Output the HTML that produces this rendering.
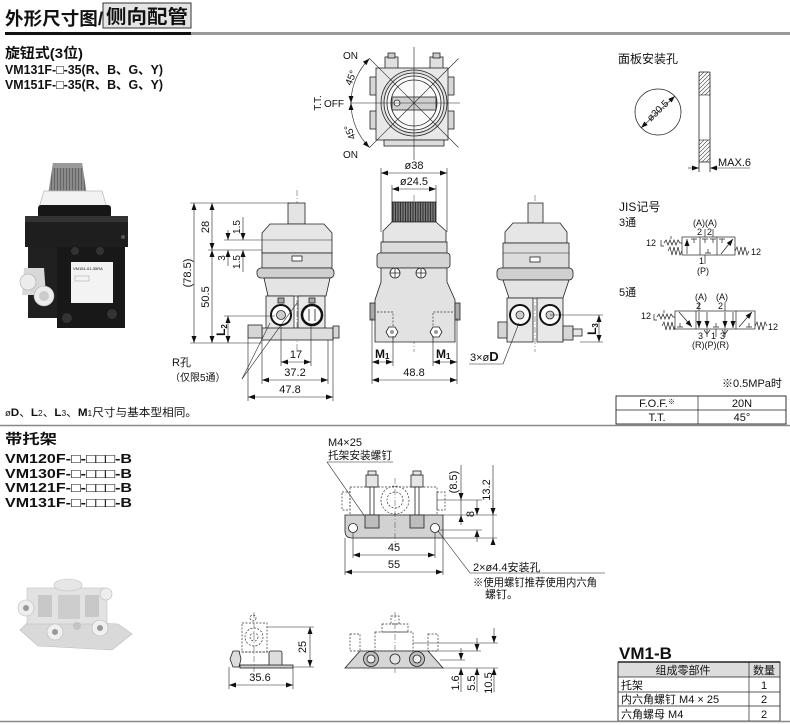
<!DOCTYPE html>
<html><head><meta charset="utf-8"><style>
html,body{margin:0;padding:0;background:#fff;}
svg{display:block;}
text{font-family:"Liberation Sans","Noto Sans CJK SC",sans-serif;fill:#111;}
.b{font-weight:bold;}
.ln{stroke:#222;stroke-width:0.8;fill:none;}
.th{stroke:#222;stroke-width:0.6;fill:none;}
.ds{stroke:#333;stroke-width:0.7;fill:none;stroke-dasharray:2 1.5;}
.cl{stroke:#444;stroke-width:0.5;fill:none;stroke-dasharray:6 2 1 2;}
.dim{stroke:#222;stroke-width:0.6;fill:none;marker-start:url(#ar);marker-end:url(#ar);}
.s{stroke:#222;stroke-width:0.8;}
</style></head><body>
<svg width="790" height="725" viewBox="0 0 790 725" xmlns="http://www.w3.org/2000/svg">
<defs>
<marker id="ar" markerUnits="userSpaceOnUse" markerWidth="7" markerHeight="5" refX="7" refY="2.5" orient="auto-start-reverse" viewBox="0 0 7 5"><path d="M0,0 L7,2.5 L0,5 z" fill="#111"/></marker>
<pattern id="hatch" patternUnits="userSpaceOnUse" width="4" height="4"><path d="M-1,1 L1,-1 M0,4 L4,0 M3,5 L5,3" stroke="#333" stroke-width="0.6"/></pattern>
<pattern id="knurl" patternUnits="userSpaceOnUse" width="2.5" height="4"><rect width="2.5" height="4" fill="#777"/><rect width="1" height="4" fill="#333"/></pattern>
<pattern id="knurl2" patternUnits="userSpaceOnUse" width="3" height="4"><rect width="3" height="4" fill="#8a8a8a"/><rect width="1" height="4" fill="#666"/></pattern>
</defs>

<!-- HEADER -->
<text x="5" y="25" font-size="18" class="b" textLength="98" lengthAdjust="spacingAndGlyphs">外形尺寸图/</text>
<rect x="103" y="3" width="88" height="25" fill="#e4e4e4" stroke="#333" stroke-width="1"/>
<text x="106" y="23" font-size="19" class="b" textLength="82" lengthAdjust="spacingAndGlyphs">侧向配管</text>
<rect x="5" y="32" width="186" height="3" fill="#111"/>
<rect x="191" y="32" width="599" height="3" fill="#999"/>

<text x="5" y="58" font-size="14" class="b" textLength="78" lengthAdjust="spacingAndGlyphs">旋钮式(3位)</text>
<text x="5" y="74" font-size="13" class="b" textLength="158" lengthAdjust="spacingAndGlyphs">VM131F-□-35(R、B、G、Y)</text>
<text x="5" y="89" font-size="13" class="b" textLength="158" lengthAdjust="spacingAndGlyphs">VM151F-□-35(R、B、G、Y)</text>

<!-- TOP PHOTO (dark valve) -->
<g>
<path d="M53,163 L82,163 L87,195 L48,195 Z" fill="url(#knurl2)"/>
<path d="M53,163 L82,163 L83,168 L52,168 Z" fill="#9a9a9a"/>
<path d="M44,191 L102,191 L108,211 L38,211 Z" fill="#f2f2f2" stroke="#bbb" stroke-width="0.8"/>
<rect x="38" y="205" width="73" height="13" rx="3" fill="#161616"/>
<path d="M25,216 L128,216 L128,247 L25,247 Z" fill="#1e1e1e"/>
<path d="M25,216 L128,216 L128,222 L25,222 Z" fill="#333"/>
<path d="M28,247 L125,247 L125,328 L57,328 L57,318 L28,318 Z" fill="#202020"/>
<rect x="57" y="247" width="68" height="81" fill="#181818"/>
<rect x="71" y="262" width="42" height="41" fill="#f3f3f3"/>
<text x="73" y="270" font-size="4" fill="#555">VM151-01-35RA</text>
<rect x="75" y="276" width="14" height="5" fill="none" stroke="#888" stroke-width="0.4"/>
<path d="M24,268 L44,268 L46,295 L22,295 Z" fill="#d8d8d8"/>
<circle cx="28" cy="282" r="8" fill="#ececec" stroke="#aaa" stroke-width="0.6"/>
<circle cx="44" cy="296" r="10" fill="#ececec" stroke="#aaa" stroke-width="0.6"/>
<circle cx="44" cy="296" r="5" fill="#ccc"/>
<circle cx="75" cy="251" r="4" fill="#333"/>
<circle cx="100" cy="251" r="4" fill="#333"/>
<circle cx="67" cy="318" r="5" fill="#333"/>
<circle cx="112" cy="314" r="5" fill="#333"/>
<circle cx="123" cy="237" r="2" fill="#555"/>
</g>

<!-- TOP VIEW WITH ANGLES -->
<g>
<rect x="385" y="57" width="13" height="12" fill="#e0e0e0" class="s" stroke-width="0.7"/>
<rect x="430" y="57" width="13" height="12" fill="#e0e0e0" class="s" stroke-width="0.7"/>
<rect x="388" y="53" width="7" height="5" fill="#ccc" class="s" stroke-width="0.6"/>
<rect x="433" y="53" width="7" height="5" fill="#ccc" class="s" stroke-width="0.6"/>
<rect x="370" y="77" width="7" height="18" fill="#d8d8d8" class="s" stroke-width="0.7"/>
<rect x="370" y="111" width="7" height="18" fill="#d8d8d8" class="s" stroke-width="0.7"/>
<rect x="447" y="77" width="7" height="18" fill="#d8d8d8" class="s" stroke-width="0.7"/>
<rect x="447" y="111" width="7" height="18" fill="#d8d8d8" class="s" stroke-width="0.7"/>
<rect x="376" y="68" width="72" height="72" fill="#e8e8e8" class="s"/>
<rect x="384" y="140" width="60" height="6" fill="#ddd" class="s" stroke-width="0.6"/>
<circle cx="414" cy="103" r="33" fill="#dedede" class="s"/>
<circle cx="414" cy="103" r="30" fill="#eee" class="s" stroke-width="0.6"/>
<circle cx="414" cy="103" r="27" fill="#fafafa" class="s" stroke-width="1.3"/>
<circle cx="414" cy="103" r="23" fill="none" class="s" stroke-width="0.6"/>
<rect x="392" y="97" width="44" height="13" fill="#cfcfcf" class="s"/>
<circle cx="397" cy="103" r="3" fill="#fff" class="s" stroke-width="0.8"/>
<line x1="369.5" y1="58.5" x2="458.5" y2="147.5" class="th"/>
<line x1="369.5" y1="147.5" x2="458.5" y2="58.5" class="th"/>
<line x1="414" y1="47" x2="414" y2="160" class="th"/>
<line x1="350" y1="103" x2="460" y2="103" class="th"/>
<path d="M369.5,58.5 A63,63 0 0,0 351,103" class="dim"/>
<path d="M351,103 A63,63 0 0,0 369.5,147.5" class="dim"/>
<text x="343" y="59" font-size="10">ON</text>
<text x="343" y="158" font-size="10">ON</text>
<text x="324" y="107" font-size="10">OFF</text>
<text transform="translate(321,103) rotate(-90)" font-size="10" text-anchor="middle">T.T.</text>
<text transform="translate(354,79) rotate(-68)" font-size="10" text-anchor="middle">45°</text>
<text transform="translate(353,131) rotate(-112)" font-size="10" text-anchor="middle">45°</text>
</g>

<!-- PANEL HOLE -->
<text x="618" y="63" font-size="12" textLength="60" lengthAdjust="spacingAndGlyphs">面板安装孔</text>
<circle cx="658" cy="112" r="23" class="ln"/>
<line x1="641" y1="128" x2="675" y2="96" class="dim"/>
<text transform="translate(660,113) rotate(-44)" font-size="10" text-anchor="middle">ø30.5</text>
<rect x="699" y="72" width="11" height="23" fill="url(#hatch)"/>
<rect x="699" y="140" width="11" height="22" fill="url(#hatch)"/>
<line x1="699" y1="72" x2="699" y2="172" class="ln"/>
<line x1="710" y1="72" x2="710" y2="172" class="ln"/>
<line x1="699" y1="72" x2="710" y2="72" class="ln"/>
<line x1="699" y1="162" x2="710" y2="162" class="ln"/>
<line x1="699" y1="95" x2="710" y2="95" class="th"/>
<line x1="699" y1="140" x2="710" y2="140" class="th"/>
<line x1="688" y1="168" x2="699" y2="168" class="th" marker-end="url(#ar)"/>
<line x1="750" y1="168" x2="710" y2="168" class="th" marker-end="url(#ar)"/>
<text x="718" y="166" font-size="11">MAX.6</text>

<!-- LEFT SIDE VIEW -->
<g>
<line x1="297" y1="190" x2="297" y2="352" class="cl"/>
<rect x="288" y="203" width="17" height="21" fill="#e4e4e4" class="s"/>
<path d="M262,253 L262,233 L270,224 L324,224 L332,233 L332,253 Z" fill="#e6e6e6" class="s"/>
<line x1="262" y1="240" x2="332" y2="240" class="th"/>
<rect x="262" y="253" width="70" height="15" fill="#dcdcdc" class="s"/>
<rect x="292" y="256" width="10" height="5" fill="#fff" class="s" stroke-width="0.6"/>
<rect x="257" y="268" width="77" height="10" rx="4" fill="#cfcfcf" class="s"/>
<path d="M264,278 L330,278 L326,296 L268,296 Z" fill="#e4e4e4" class="s"/>
<rect x="266" y="296" width="28" height="42" fill="#e8e8e8" class="s"/>
<rect x="298" y="296" width="27" height="42" fill="#e8e8e8" class="s"/>
<rect x="262" y="328" width="71" height="12" fill="#dedede" class="s"/>
<circle cx="281" cy="315" r="10" fill="#fff" stroke="#111" stroke-width="2"/>
<circle cx="281" cy="315" r="4.5" fill="#ccc" class="s"/>
<circle cx="312" cy="315" r="10" fill="#fff" stroke="#111" stroke-width="2.5"/>
<line x1="309" y1="309" x2="309" y2="321" class="s"/>
<line x1="315" y1="309" x2="315" y2="321" class="s"/>
<rect x="248" y="325" width="14" height="13" fill="#d6d6d6" class="s"/>
<rect x="333" y="326" width="6" height="12" fill="#d6d6d6" class="s"/>
<rect x="278" y="298" width="6" height="5" fill="#aaa" class="s" stroke-width="0.5"/>
<rect x="309" y="298" width="6" height="5" fill="#aaa" class="s" stroke-width="0.5"/>
<!-- dims -->
<line x1="190" y1="203" x2="290" y2="203" class="th"/>
<line x1="190" y1="343" x2="262" y2="343" class="th"/>
<line x1="194" y1="203" x2="194" y2="343" class="dim"/>
<text transform="translate(191,273) rotate(-90)" font-size="11" text-anchor="middle">(78.5)</text>
<line x1="212" y1="203" x2="212" y2="250" class="dim"/>
<line x1="212" y1="250" x2="212" y2="343" class="dim"/>
<text transform="translate(209,227) rotate(-90)" font-size="11" text-anchor="middle">28</text>
<text transform="translate(209,297) rotate(-90)" font-size="11" text-anchor="middle">50.5</text>
<line x1="208" y1="250" x2="262" y2="250" class="th"/>
<line x1="224" y1="240" x2="262" y2="240" class="th"/>
<line x1="243" y1="217" x2="243" y2="240" class="th" marker-end="url(#ar)"/>
<line x1="243" y1="272" x2="243" y2="250" class="th" marker-end="url(#ar)"/>
<line x1="228" y1="230" x2="228" y2="240" class="th" marker-end="url(#ar)"/>
<line x1="228" y1="266" x2="228" y2="250" class="th" marker-end="url(#ar)"/>
<text transform="translate(240,227) rotate(-90)" font-size="10" text-anchor="middle">1.5</text>
<text transform="translate(240,262) rotate(-90)" font-size="10" text-anchor="middle">1.5</text>
<text transform="translate(225,258) rotate(-90)" font-size="10" text-anchor="middle">3</text>
<line x1="224" y1="316" x2="275" y2="316" class="th"/>
<line x1="228" y1="316" x2="228" y2="343" class="dim"/>
<text transform="translate(225,330) rotate(-90)" font-size="12" text-anchor="middle" class="b">L<tspan font-size="8" dy="2">2</tspan></text>
<line x1="281" y1="326" x2="281" y2="366" class="th"/>
<line x1="311" y1="326" x2="311" y2="366" class="th"/>
<line x1="262" y1="340" x2="262" y2="384" class="th"/>
<line x1="328" y1="340" x2="328" y2="384" class="th"/>
<line x1="248" y1="338" x2="248" y2="401" class="th"/>
<line x1="333" y1="338" x2="333" y2="401" class="th"/>
<line x1="281" y1="362" x2="311" y2="362" class="dim"/>
<text x="296" y="358" font-size="11" text-anchor="middle">17</text>
<line x1="262" y1="380" x2="328" y2="380" class="dim"/>
<text x="295" y="376" font-size="11" text-anchor="middle">37.2</text>
<line x1="248" y1="397" x2="333" y2="397" class="dim"/>
<text x="290" y="393" font-size="11" text-anchor="middle">47.8</text>
<text x="172" y="366" font-size="11">R孔</text>
<text x="170" y="381" font-size="10">（仅限5通）</text>
<line x1="242" y1="379" x2="270" y2="323" class="th"/>
<line x1="242" y1="379" x2="297" y2="303" class="th"/>
</g>

<!-- FRONT VIEW -->
<g>
<line x1="414" y1="195" x2="414" y2="352" class="cl"/>
<rect x="392" y="202" width="44" height="20" fill="url(#knurl)" class="s"/>
<path d="M383,242 L383,231 L392,222 L436,222 L446,231 L446,242 Z" fill="#e6e6e6" class="s"/>
<rect x="381" y="242" width="66" height="11" fill="#dcdcdc" class="s"/>
<rect x="377" y="253" width="73" height="15" rx="3" fill="#d4d4d4" class="s"/>
<path d="M381,268 L447,268 L447,282 L455,300 L455,342 L375,342 L375,300 L381,282 Z" fill="#e2e2e2" class="s"/>
<circle cx="395" cy="273" r="5" fill="#fff" class="s"/>
<path d="M390,273 H400 M395,268 V278" class="s"/>
<circle cx="421" cy="273" r="5" fill="#fff" class="s"/>
<path d="M416,273 H426 M421,268 V278" class="s"/>
<rect x="370" y="303" width="5" height="17" fill="#aaa" class="s" stroke-width="0.6"/>
<rect x="455" y="303" width="5" height="17" fill="#aaa" class="s" stroke-width="0.6"/>
<path d="M377,312 H393 V342 M453,312 H433 V342" class="ds"/>
<polygon points="386,332 389,327 395,327 398,332 395,337 389,337" fill="#fff" class="s"/>
<circle cx="392" cy="332" r="2" fill="#999"/>
<polygon points="430,332 433,327 439,327 442,332 439,337 433,337" fill="#fff" class="s"/>
<circle cx="436" cy="332" r="2" fill="#999"/>
<line x1="381" y1="168" x2="381" y2="232" class="th"/>
<line x1="447" y1="168" x2="447" y2="232" class="th"/>
<line x1="392" y1="185" x2="392" y2="203" class="th"/>
<line x1="436" y1="185" x2="436" y2="203" class="th"/>
<line x1="381" y1="173" x2="447" y2="173" class="dim"/>
<text x="414" y="169" font-size="11" text-anchor="middle">ø38</text>
<line x1="392" y1="189" x2="436" y2="189" class="dim"/>
<text x="414" y="185" font-size="11" text-anchor="middle">ø24.5</text>
<line x1="372" y1="318" x2="372" y2="384" class="th"/>
<line x1="457" y1="318" x2="457" y2="384" class="th"/>
<line x1="393" y1="336" x2="393" y2="366" class="th"/>
<line x1="433" y1="336" x2="433" y2="366" class="th"/>
<line x1="372" y1="362" x2="393" y2="362" class="dim"/>
<line x1="433" y1="362" x2="457" y2="362" class="dim"/>
<text x="375" y="358" font-size="12" class="b">M<tspan font-size="8" dy="1">1</tspan></text>
<text x="436" y="358" font-size="12" class="b">M<tspan font-size="8" dy="1">1</tspan></text>
<line x1="372" y1="380" x2="457" y2="380" class="dim"/>
<text x="414" y="376" font-size="11" text-anchor="middle">48.8</text>
</g>

<!-- RIGHT SIDE VIEW -->
<g>
<line x1="535" y1="195" x2="535" y2="352" class="cl"/>
<rect x="528" y="203" width="15" height="20" fill="#e4e4e4" class="s"/>
<path d="M505,243 L505,232 L513,223 L560,223 L567,232 L567,243 Z" fill="#e6e6e6" class="s"/>
<rect x="503" y="243" width="66" height="25" fill="#dcdcdc" class="s"/>
<line x1="503" y1="253" x2="569" y2="253" class="th"/>
<rect x="530" y="257" width="10" height="5" fill="#fff" class="s" stroke-width="0.6"/>
<rect x="497" y="268" width="76" height="12" rx="4" fill="#cfcfcf" class="s"/>
<path d="M503,280 L569,280 L563,298 L509,298 Z" fill="#e4e4e4" class="s"/>
<rect x="507" y="298" width="26" height="44" fill="#e8e8e8" class="s"/>
<rect x="537" y="298" width="26" height="44" fill="#e8e8e8" class="s"/>
<circle cx="520" cy="315" r="10" fill="#fff" stroke="#111" stroke-width="2"/>
<circle cx="520" cy="315" r="4" fill="#ccc" class="s"/>
<circle cx="550" cy="315" r="10" fill="#fff" stroke="#111" stroke-width="2"/>
<circle cx="550" cy="315" r="4" fill="#ccc" class="s"/>
<rect x="498" y="322" width="9" height="16" fill="#d6d6d6" class="s"/>
<rect x="563" y="326" width="10" height="14" fill="#d6d6d6" class="s"/>
<rect x="573" y="329" width="9" height="7" fill="#e6e6e6" class="s" stroke-width="0.6"/>
<line x1="550" y1="315" x2="603" y2="315" class="th"/>
<line x1="580" y1="342" x2="603" y2="342" class="th"/>
<line x1="599" y1="315" x2="599" y2="342" class="dim"/>
<text transform="translate(596,329) rotate(-90)" font-size="12" text-anchor="middle" class="b">L<tspan font-size="8" dy="2">3</tspan></text>
<text x="470" y="361" font-size="11">3×ø<tspan class="b" font-size="13">D</tspan></text>
<line x1="469" y1="364" x2="503" y2="364" class="th"/>
<line x1="503" y1="364" x2="519" y2="323" class="th"/>
</g>

<!-- JIS symbols -->
<text x="619" y="211" font-size="12">JIS记号</text>
<text x="619" y="226" font-size="11">3通</text>
<g stroke="#222" stroke-width="0.7" fill="none">
<rect x="682" y="237" width="53" height="18"/>
<line x1="700" y1="237" x2="700" y2="255"/>
<line x1="717" y1="237" x2="717" y2="255"/>
<line x1="687" y1="254" x2="687" y2="239" marker-end="url(#ar)"/>
<path d="M691,239 H697 M694,239 V243"/>
<path d="M702,239 H708 M705,239 V243 M710,239 H716 M713,239 V243"/>
<path d="M705,253 H711 M708,253 V249"/>
<path d="M719,239 H725 M722,239 V243"/>
<line x1="721" y1="254" x2="733" y2="239" marker-end="url(#ar)"/>
<line x1="705" y1="229" x2="705" y2="237"/>
<line x1="713" y1="229" x2="713" y2="237"/>
<line x1="705" y1="255" x2="705" y2="264"/>
<path d="M661,240 V246 H664 M664,243 L666,240 L668,245 L670,240 L672,245 L674,240 L676,245 L678,240 L680,243 H682"/>
<path d="M671,236 V239"/>
<path d="M668,251 L670,247 L672,255 L674,247 L676,255 L678,247 L680,255 L682,251"/>
<path d="M735,251 L737,247 L739,255 L741,247 L743,255 L745,247 L747,255 L749,251"/>
</g>
<text x="693" y="226" font-size="9">(A)(A)</text>
<text x="697" y="235" font-size="9">2</text>
<text x="707" y="235" font-size="9">2</text>
<text x="646" y="246" font-size="9">12</text>
<text x="751" y="255" font-size="9">12</text>
<text x="699" y="264" font-size="9">1</text>
<text x="697" y="274" font-size="9">(P)</text>

<text x="619" y="296" font-size="11">5通</text>
<g stroke="#222" stroke-width="0.7" fill="none">
<rect x="675" y="311" width="80" height="18"/>
<line x1="696" y1="311" x2="696" y2="329"/>
<line x1="736" y1="311" x2="736" y2="329"/>
<line x1="679" y1="312" x2="692" y2="327" marker-end="url(#ar)"/>
<path d="M677,327 H683 M680,327 V323"/>
<line x1="699" y1="312" x2="699" y2="328" marker-end="url(#ar)"/>
<line x1="707" y1="312" x2="707" y2="328" marker-end="url(#ar)"/>
<path d="M713,327 H719 M716,327 V323"/>
<line x1="725" y1="312" x2="725" y2="328" marker-end="url(#ar)"/>
<line x1="733" y1="312" x2="733" y2="328" marker-end="url(#ar)"/>
<line x1="739" y1="327" x2="752" y2="312" marker-end="url(#ar)"/>
<path d="M746,327 H752 M749,327 V323"/>
<line x1="699" y1="302" x2="699" y2="311"/>
<line x1="725" y1="302" x2="725" y2="311"/>
<line x1="707" y1="329" x2="707" y2="337"/>
<line x1="716" y1="329" x2="716" y2="337"/>
<line x1="725" y1="329" x2="725" y2="337"/>
<path d="M704,330 L707,334 L710,330 M722,330 L725,334 L728,330"/>
<path d="M654,314 V320 H657 M657,317 L659,314 L661,319 L663,314 L665,319 L667,314 L669,319 L671,314 L673,317 H675"/>
<path d="M664,310 V313"/>
<path d="M662,326 L664,322 L666,330 L668,322 L670,330 L672,322 L674,330 L675,326"/>
<path d="M755,326 L757,322 L759,330 L761,322 L763,330 L765,322 L767,326"/>
</g>
<text x="695" y="300" font-size="9">(A)</text>
<text x="716" y="300" font-size="9">(A)</text>
<text x="696" y="309" font-size="9">2</text>
<text x="718" y="309" font-size="9">2</text>
<text x="641" y="319" font-size="9">12</text>
<text x="768" y="330" font-size="9">12</text>
<text x="698" y="339" font-size="9">3</text>
<text x="711" y="339" font-size="9">1</text>
<text x="720" y="339" font-size="9">3</text>
<text x="692" y="348" font-size="9">(R)(P)(R)</text>

<!-- FOF table -->
<text x="722" y="387" font-size="11">※0.5MPa时</text>
<rect x="616" y="396" width="170" height="28" fill="none" stroke="#222" stroke-width="0.9"/>
<line x1="616" y1="410" x2="786" y2="410" stroke="#222" stroke-width="0.7"/>
<line x1="698" y1="396" x2="698" y2="424" stroke="#222" stroke-width="0.7"/>
<text x="657" y="407" font-size="11" text-anchor="middle">F.O.F.<tspan font-size="7" dy="-3">※</tspan></text>
<text x="742" y="407" font-size="11" text-anchor="middle">20N</text>
<text x="657" y="421" font-size="11" text-anchor="middle">T.T.</text>
<text x="742" y="421" font-size="11" text-anchor="middle">45°</text>

<text x="5" y="416" font-size="11" textLength="192" lengthAdjust="spacingAndGlyphs"><tspan font-size="9">ø</tspan><tspan class="b">D</tspan>、<tspan class="b">L</tspan><tspan font-size="8">2</tspan>、<tspan class="b">L</tspan><tspan font-size="8">3</tspan>、<tspan class="b">M</tspan><tspan font-size="8">1</tspan>尺寸与基本型相同。</text>
<line x1="0" y1="425.5" x2="790" y2="425.5" stroke="#888" stroke-width="1.5"/>

<!-- BRACKET SECTION TITLES -->
<text x="5" y="444" font-size="14" class="b" textLength="52" lengthAdjust="spacingAndGlyphs">带托架</text>
<text x="5" y="463" font-size="13" class="b" textLength="127" lengthAdjust="spacingAndGlyphs">VM120F-□-□□□-B</text>
<text x="5" y="478" font-size="13" class="b" textLength="127" lengthAdjust="spacingAndGlyphs">VM130F-□-□□□-B</text>
<text x="5" y="492" font-size="13" class="b" textLength="127" lengthAdjust="spacingAndGlyphs">VM121F-□-□□□-B</text>
<text x="5" y="507" font-size="13" class="b" textLength="127" lengthAdjust="spacingAndGlyphs">VM131F-□-□□□-B</text>

<!-- BOTTOM PHOTO (light bracket) -->
<g>
<path d="M20,630 L38,646 L112,650 L132,634 L118,624 L30,620 Z" fill="#d9d9d9" stroke="#bbb" stroke-width="0.6"/>
<rect x="27" y="588" width="80" height="36" fill="#e2e2e2" stroke="#c4c4c4" stroke-width="0.6"/>
<rect x="38" y="595" width="14" height="22" fill="#c8c8c8"/>
<rect x="58" y="595" width="22" height="24" fill="#cdcdcd"/>
<rect x="85" y="595" width="14" height="22" fill="#c8c8c8"/>
<ellipse cx="68" cy="585" rx="14" ry="6" fill="#e6e6e6" stroke="#c0c0c0" stroke-width="0.6"/>
<circle cx="26" cy="608" r="8" fill="#eee" stroke="#bbb" stroke-width="0.6"/>
<circle cx="26" cy="608" r="3" fill="#999"/>
<circle cx="106" cy="594" r="6" fill="#eee" stroke="#bbb" stroke-width="0.6"/>
<circle cx="55" cy="632" r="8" fill="#f0f0f0" stroke="#bbb" stroke-width="0.6"/>
<circle cx="55" cy="632" r="3" fill="#999"/>
<circle cx="100" cy="628" r="8" fill="#f0f0f0" stroke="#bbb" stroke-width="0.6"/>
<circle cx="100" cy="628" r="3" fill="#999"/>
<circle cx="77" cy="626" r="4" fill="#c4c4c4"/>
</g>

<!-- BRACKET TOP DRAWING -->
<g>
<text x="328" y="446" font-size="11">M4×25</text>
<text x="328" y="459" font-size="11" textLength="64" lengthAdjust="spacingAndGlyphs">托架安装螺钉</text>
<line x1="327" y1="462" x2="393" y2="462" class="th"/>
<line x1="327" y1="462" x2="368" y2="521" class="th"/>
<rect x="342" y="492" width="8" height="18" class="ds"/>
<rect x="437" y="492" width="8" height="18" class="ds"/>
<rect x="350" y="487" width="87" height="28" class="ds"/>
<circle cx="395" cy="500" r="14" class="ds"/>
<circle cx="395" cy="500" r="8" class="ds"/>
<path d="M345,515 L443,515 L443,538 L352,538 Q345,538 345,531 Z" fill="#d2d2d2" class="s"/>
<circle cx="353" cy="528" r="4.5" fill="#fff" class="s"/>
<circle cx="435" cy="528" r="4.5" fill="#fff" class="s"/>
<rect x="366" y="475" width="12" height="12" fill="#e6e6e6" class="s"/>
<rect x="368" y="471" width="8" height="4" fill="#e6e6e6" class="s" stroke-width="0.6"/>
<rect x="370" y="487" width="4" height="28" fill="#fff" class="s" stroke-width="0.6"/>
<rect x="365" y="515" width="14" height="13" fill="#bdbdbd" class="s"/>
<rect x="411" y="475" width="12" height="12" fill="#e6e6e6" class="s"/>
<rect x="413" y="471" width="8" height="4" fill="#e6e6e6" class="s" stroke-width="0.6"/>
<rect x="415" y="487" width="4" height="28" fill="#fff" class="s" stroke-width="0.6"/>
<rect x="410" y="515" width="14" height="13" fill="#bdbdbd" class="s"/>
<line x1="395" y1="478" x2="395" y2="545" class="cl"/>
<line x1="437" y1="500" x2="482" y2="500" class="th"/>
<line x1="443" y1="515" x2="497" y2="515" class="th"/>
<line x1="440" y1="530" x2="482" y2="530" class="th"/>
<line x1="443" y1="538" x2="497" y2="538" class="th"/>
<line x1="461" y1="465" x2="461" y2="500" class="th" marker-end="url(#ar)"/>
<line x1="461" y1="525" x2="461" y2="515" class="th" marker-end="url(#ar)"/>
<line x1="461" y1="500" x2="461" y2="515" class="th"/>
<text transform="translate(457,482) rotate(-90)" font-size="11" text-anchor="middle">(8.5)</text>
<line x1="477" y1="500" x2="477" y2="515" class="th" marker-end="url(#ar)"/>
<line x1="477" y1="542" x2="477" y2="530" class="th" marker-end="url(#ar)"/>
<text transform="translate(474,514) rotate(-90)" font-size="11" text-anchor="middle">8</text>
<line x1="493" y1="465" x2="493" y2="543" class="th"/>
<line x1="493" y1="500" x2="493" y2="515" class="th" marker-end="url(#ar)"/>
<line x1="493" y1="543" x2="493" y2="538" class="th" marker-end="url(#ar)"/>
<text transform="translate(490,490) rotate(-90)" font-size="11" text-anchor="middle">13.2</text>
<line x1="353" y1="533" x2="353" y2="558" class="th"/>
<line x1="435" y1="533" x2="435" y2="558" class="th"/>
<line x1="345" y1="538" x2="345" y2="575" class="th"/>
<line x1="443" y1="538" x2="443" y2="575" class="th"/>
<line x1="353" y1="555" x2="435" y2="555" class="dim"/>
<text x="394" y="551" font-size="11" text-anchor="middle">45</text>
<line x1="345" y1="572" x2="443" y2="572" class="dim"/>
<text x="394" y="568" font-size="11" text-anchor="middle">55</text>
<line x1="438" y1="531" x2="470" y2="573" class="th"/>
<line x1="470" y1="573" x2="605" y2="573" class="th"/>
<text x="473" y="571" font-size="11">2×ø4.4安装孔</text>
<text x="473" y="586" font-size="11" textLength="124" lengthAdjust="spacingAndGlyphs">※使用螺钉推荐使用内六角</text>
<text x="485" y="598" font-size="11">螺钉。</text>
</g>

<!-- BOTTOM LEFT SMALL VIEW -->
<g>
<circle cx="253" cy="618" r="3" class="ds"/>
<rect x="242" y="623" width="25" height="29" class="ds"/>
<circle cx="254" cy="637" r="9" class="ds"/>
<circle cx="254" cy="637" r="4" class="ds"/>
<rect x="238" y="652" width="32" height="13" class="ds"/>
<polygon points="230,659 233,651 239,651 241,659 239,667 233,667" fill="#ddd" class="s"/>
<rect x="269" y="651" width="13" height="16" rx="2" fill="#ddd" class="s"/>
<rect x="240" y="665" width="53" height="3" fill="#ccc" class="s" stroke-width="0.6"/>
<line x1="254" y1="612" x2="254" y2="672" class="cl"/>
<line x1="267" y1="627" x2="314" y2="627" class="th"/>
<line x1="293" y1="667" x2="314" y2="667" class="th"/>
<line x1="310" y1="627" x2="310" y2="667" class="dim"/>
<text transform="translate(306,647) rotate(-90)" font-size="11" text-anchor="middle">25</text>
<line x1="229" y1="667" x2="229" y2="689" class="th"/>
<line x1="293" y1="668" x2="293" y2="689" class="th"/>
<line x1="229" y1="685" x2="293" y2="685" class="dim"/>
<text x="260" y="681" font-size="11" text-anchor="middle">35.6</text>
</g>

<!-- BOTTOM MIDDLE SIDE VIEW -->
<g>
<line x1="395" y1="612" x2="395" y2="674" class="cl"/>
<rect x="391" y="616" width="8" height="8" class="ds"/>
<rect x="382" y="624" width="26" height="8" class="ds"/>
<rect x="375" y="632" width="38" height="19" class="ds"/>
<rect x="350" y="634" width="10" height="17" class="ds"/>
<rect x="428" y="634" width="10" height="17" class="ds"/>
<path d="M360,651 L428,651 L443,668 L345,668 Z" fill="#d6d6d6" class="s"/>
<circle cx="371" cy="659" r="7.5" fill="#bbb" class="s"/>
<circle cx="371" cy="659" r="4" fill="#eee" class="s"/>
<circle cx="395" cy="659" r="5" fill="#e4e4e4" class="s"/>
<circle cx="417" cy="659" r="7.5" fill="#bbb" class="s"/>
<circle cx="417" cy="659" r="4" fill="#eee" class="s"/>
<line x1="413" y1="643" x2="498" y2="643" class="th"/>
<line x1="428" y1="651" x2="481" y2="651" class="th"/>
<line x1="440" y1="660" x2="465" y2="660" class="th"/>
<line x1="443" y1="668" x2="498" y2="668" class="th"/>
<line x1="461" y1="648" x2="461" y2="660" class="th" marker-end="url(#ar)"/>
<line x1="461" y1="692" x2="461" y2="668" class="th" marker-end="url(#ar)"/>
<text transform="translate(459,683) rotate(-90)" font-size="11" text-anchor="middle">1.6</text>
<line x1="477" y1="638" x2="477" y2="651" class="th" marker-end="url(#ar)"/>
<line x1="477" y1="692" x2="477" y2="668" class="th" marker-end="url(#ar)"/>
<text transform="translate(475,683) rotate(-90)" font-size="11" text-anchor="middle">5.5</text>
<line x1="494" y1="628" x2="494" y2="643" class="th" marker-end="url(#ar)"/>
<line x1="494" y1="692" x2="494" y2="668" class="th" marker-end="url(#ar)"/>
<text transform="translate(492,683) rotate(-90)" font-size="11" text-anchor="middle">10.5</text>
</g>

<!-- VM1-B TABLE -->
<text x="619" y="659" font-size="17" class="b">VM1-B</text>
<rect x="618" y="662" width="162" height="15" fill="#dcdcdc"/>
<rect x="618" y="662" width="162" height="59" fill="none" stroke="#222" stroke-width="0.9"/>
<line x1="618" y1="662" x2="780" y2="662" stroke="#222" stroke-width="1.6"/>
<line x1="618" y1="677" x2="780" y2="677" stroke="#222" stroke-width="0.7"/>
<line x1="618" y1="692" x2="780" y2="692" stroke="#222" stroke-width="0.7"/>
<line x1="618" y1="706" x2="780" y2="706" stroke="#222" stroke-width="0.7"/>
<line x1="749" y1="662" x2="749" y2="721" stroke="#222" stroke-width="0.7"/>
<text x="683" y="674" font-size="11" text-anchor="middle">组成零部件</text>
<text x="764" y="674" font-size="11" text-anchor="middle">数量</text>
<text x="621" y="689" font-size="11">托架</text>
<text x="764" y="689" font-size="11" text-anchor="middle">1</text>
<text x="621" y="703" font-size="11">内六角螺钉 M4 × 25</text>
<text x="764" y="703" font-size="11" text-anchor="middle">2</text>
<text x="621" y="718" font-size="11">六角螺母 M4</text>
<text x="764" y="718" font-size="11" text-anchor="middle">2</text>
<line x1="0" y1="721.5" x2="790" y2="721.5" stroke="#888" stroke-width="1.5"/>
</svg>
</body></html>
